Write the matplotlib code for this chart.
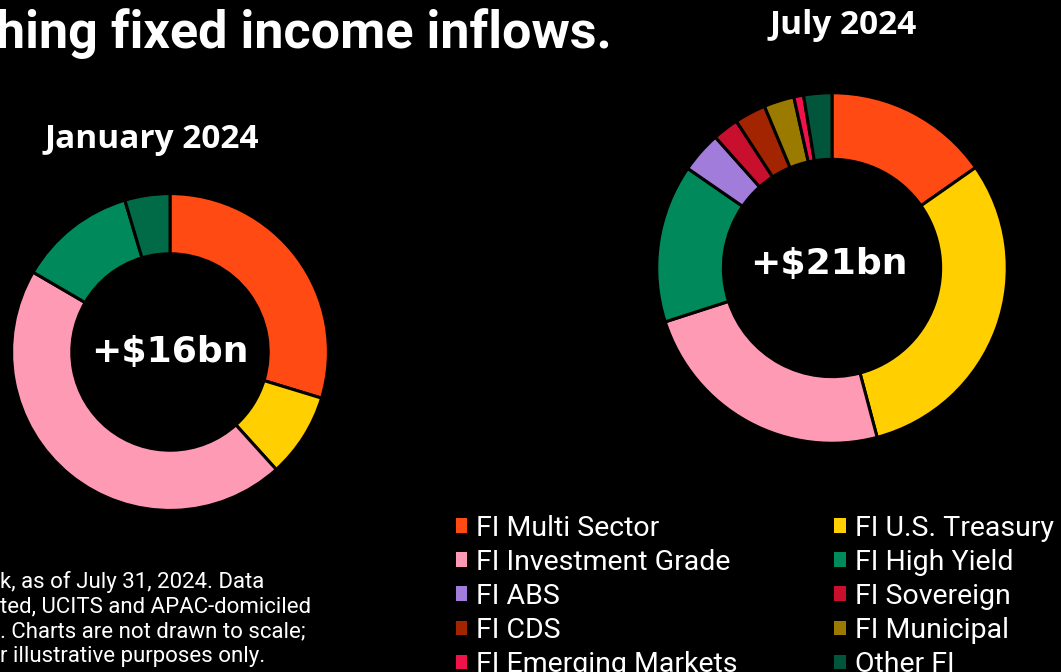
import matplotlib
matplotlib.use("Agg")
import matplotlib.pyplot as plt

# Share of inflows by category (%)
jan_labels = ["FI Multi Sector", "FI U.S. Treasury", "FI Investment Grade",
              "FI High Yield", "Other FI"]
jan_values = [29.7, 8.6, 45.1, 12.0, 4.6]

jul_labels = ["FI Multi Sector", "FI U.S. Treasury", "FI Investment Grade",
              "FI High Yield", "FI ABS", "FI Sovereign", "FI CDS",
              "FI Municipal", "FI Emerging Markets", "Other FI"]
jul_values = [15.3, 30.6, 24.2, 14.6, 3.8, 2.4, 2.9, 2.8, 0.9, 2.6]

colors = {
    "FI Multi Sector": "#ff4a14",
    "FI U.S. Treasury": "#ffcf00",
    "FI Investment Grade": "#ff9ab4",
    "FI High Yield": "#00895a",
    "FI ABS": "#a17cdb",
    "FI Sovereign": "#c8102e",
    "FI CDS": "#a32400",
    "FI Municipal": "#9a7b00",
    "FI Emerging Markets": "#f0124b",
    "Other FI": "#00553a",
}
jan_colors = [colors[l] for l in jan_labels]
jan_colors[-1] = "#006b46"
jul_colors = [colors[l] for l in jul_labels]

totals = ["+$16bn", "+$21bn"]
periods = ["January 2024", "July 2024"]
title = "hing fixed income inflows."
footnote = ("k, as of July 31, 2024. Data\n"
            "ted, UCITS and APAC-domiciled\n"
            ". Charts are not drawn to scale;\n"
            "r illustrative purposes only.")

W, H = 1061, 672
fig = plt.figure(figsize=(W / 100, H / 100), dpi=100, facecolor="black")


def donut_axes(cx, cy, r):
    return fig.add_axes([(cx - r) / W, (H - cy - r) / H, 2 * r / W, 2 * r / H])


wedge_style = dict(width=0.38, edgecolor="black", linewidth=2.2)

ax1 = donut_axes(170, 352, 160)
ax1.pie(jan_values, colors=jan_colors, startangle=90, counterclock=False,
        radius=1, wedgeprops=wedge_style)
ax1.set_xlim(-1.01, 1.01)
ax1.set_ylim(-1.01, 1.01)
ax1.text(0, 0, totals[0], ha="center", va="center", color="white",
         fontsize=26, fontweight="bold", family="DejaVu Sans")

ax2 = donut_axes(832, 268, 177)
wedges, _ = ax2.pie(jul_values, colors=jul_colors, startangle=90,
                    counterclock=False, radius=1, wedgeprops=wedge_style)
ax2.set_xlim(-1.01, 1.01)
ax2.set_ylim(-1.01, 1.01)
ax2.text(-0.02, 0.02, totals[1], ha="center", va="center", color="white",
         fontsize=26, fontweight="bold", family="DejaVu Sans")

# headings
fig.text(612 / W, 1 - 48 / H, title, ha="right", va="baseline", color="white",
         fontsize=37.5, fontweight="bold", family="Roboto")
fig.text(152 / W, 1 - 140 / H, periods[0], ha="center", va="center",
         color="white", fontsize=24, fontweight="bold", family="Open Sans")
fig.text(843 / W, 1 - 26 / H, periods[1], ha="center", va="center",
         color="white", fontsize=24, fontweight="bold", family="Open Sans")

fig.text(0.0, 1 - 571 / H, footnote, ha="left", va="top", color="white",
         fontsize=16, family="Roboto", linespacing=1.22)

# legend: row-wise order across two columns
order = [0, 2, 4, 6, 8, 1, 3, 5, 7, 9]
leg = fig.legend([wedges[i] for i in order], [jul_labels[i] for i in order],
                 ncol=2, loc="upper left", bbox_to_anchor=(430 / W, 1 - 489 / H),
                 frameon=False, handlelength=0.4, handleheight=0.4,
                 handletextpad=0.32, columnspacing=3.4, labelspacing=0.25,
                 prop={"family": "Roboto", "size": 20.5})
for t in leg.get_texts():
    t.set_color("white")
for h in leg.legend_handles:
    h.set_linewidth(0)

fig.savefig("out.png", dpi=100, facecolor="black")
